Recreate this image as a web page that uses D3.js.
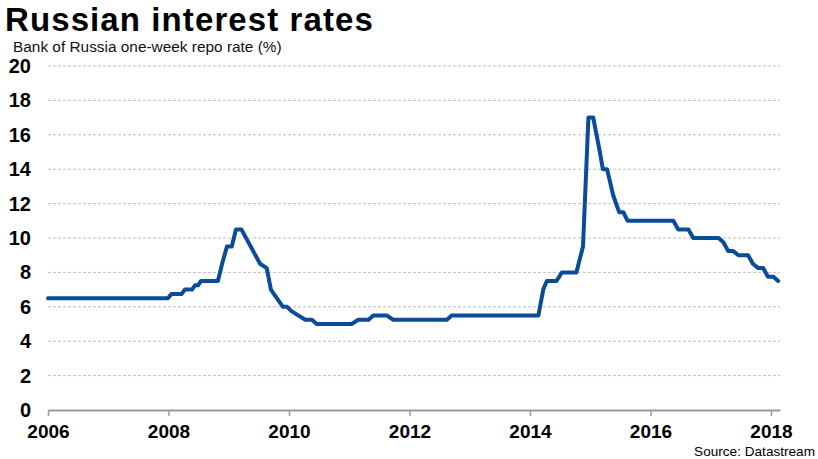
<!DOCTYPE html>
<html>
<head>
<meta charset="utf-8">
<script src="https://cdn.jsdelivr.net/npm/d3@7/dist/d3.min.js"></script>
<style>
  html, body { margin: 0; padding: 0; background: #fff; }
  svg { display: block; }
  text { font-family: "Liberation Sans", Arial, sans-serif; }
</style>
</head>
<body>
<svg id="chart" width="818" height="459"></svg>
<script>
// ---- Data (decimal year, rate %) ----
const dates = [
  2006.00, 2007.99, 2008.05, 2008.11, 2008.22, 2008.27, 2008.39, 2008.44, 2008.49, 2008.54,
  2008.82, 2008.89, 2008.97, 2009.05, 2009.12, 2009.21, 2009.52, 2009.63, 2009.70, 2009.90,
  2009.97, 2010.04, 2010.27, 2010.38, 2010.46, 2011.04, 2011.15, 2011.32, 2011.40, 2011.62,
  2011.73, 2012.62, 2012.70, 2014.14, 2014.22, 2014.28, 2014.44, 2014.53, 2014.77, 2014.88,
  2014.97, 2015.05, 2015.16, 2015.21, 2015.28, 2015.38, 2015.48, 2015.55, 2015.62, 2016.38,
  2016.46, 2016.63, 2016.71, 2017.13, 2017.21, 2017.29, 2017.37, 2017.46, 2017.62, 2017.70,
  2017.79, 2017.87, 2017.95, 2018.04, 2018.12
];
const rates = [
  6.5, 6.5, 6.75, 6.75, 6.75, 7.0, 7.0, 7.25, 7.25, 7.5,
  7.5, 8.5, 9.5, 9.5, 10.5, 10.5, 8.5, 8.25, 7.0, 6.0,
  6.0, 5.75, 5.25, 5.25, 5.0, 5.0, 5.25, 5.25, 5.5, 5.5,
  5.25, 5.25, 5.5, 5.5, 7.0, 7.5, 7.5, 8.0, 8.0, 9.5,
  17.0, 17.0, 15.0, 14.0, 14.0, 12.5, 11.5, 11.5, 11.0, 11.0,
  10.5, 10.5, 10.0, 10.0, 9.75, 9.25, 9.25, 9.0, 9.0, 8.5,
  8.25, 8.25, 7.75, 7.75, 7.5
];
const xTicks = [2006, 2008, 2010, 2012, 2014, 2016, 2018];
const yTicks = [0, 2, 4, 6, 8, 10, 12, 14, 16, 18, 20];

const title = "Russian interest rates";
const subtitle = "Bank of Russia one-week repo rate (%)";
const source = "Source: Datastream";

// ---- Layout ----
const svg = d3.select("#chart");
const x = d3.scaleLinear().domain([2006, 2018.15]).range([48, 780]);
const y = d3.scaleLinear().domain([0, 20]).range([410, 66]);

// Title & subtitle
svg.append("text").attr("x", 5).attr("y", 30.5)
  .attr("font-size", 33).attr("font-weight", "bold").attr("fill", "#000")
  .attr("letter-spacing", 1.1)
  .text(title);
svg.append("text").attr("x", 13).attr("y", 52)
  .attr("font-size", 15.4).attr("fill", "#111")
  .text(subtitle);

// Gridlines
svg.append("g").selectAll("line")
  .data(yTicks.filter(d => d > 0))
  .join("line")
  .attr("x1", x.range()[0]).attr("x2", x.range()[1])
  .attr("y1", d => y(d)).attr("y2", d => y(d))
  .attr("stroke", "#bdbdbd").attr("stroke-width", 1)
  .attr("stroke-dasharray", "3,2");

// Y labels
svg.append("g").selectAll("text")
  .data(yTicks)
  .join("text")
  .attr("x", 31).attr("y", d => y(d) + 7)
  .attr("text-anchor", "end")
  .attr("font-size", 20).attr("font-weight", "bold").attr("fill", "#000")
  .text(d => d);

// X axis
const xAxis = d3.axisBottom(x).tickValues(xTicks).tickFormat(d3.format("d"))
  .tickSizeInner(6).tickSizeOuter(0).tickPadding(9);
const gx = svg.append("g").attr("transform", `translate(0,${y(0)})`).call(xAxis);
gx.select(".domain").attr("stroke", "#999").attr("stroke-width", 2);
gx.selectAll(".tick line").attr("stroke", "#999").attr("stroke-width", 1.5);
gx.selectAll(".tick text")
  .attr("font-family", "'Liberation Sans', Arial, sans-serif")
  .attr("font-size", 19).attr("font-weight", "bold").attr("fill", "#000");

// Line
const line = d3.line().x((d, i) => x(dates[i])).y(d => y(d)).curve(d3.curveLinear);
svg.append("path")
  .datum(rates)
  .attr("fill", "none")
  .attr("stroke", "#0a4c9a")
  .attr("stroke-width", 4)
  .attr("stroke-linejoin", "round")
  .attr("stroke-linecap", "round")
  .attr("d", line);

// Source
svg.append("text").attr("x", 815).attr("y", 456)
  .attr("text-anchor", "end").attr("font-size", 13.6).attr("fill", "#000")
  .text(source);
</script>
</body>
</html>
